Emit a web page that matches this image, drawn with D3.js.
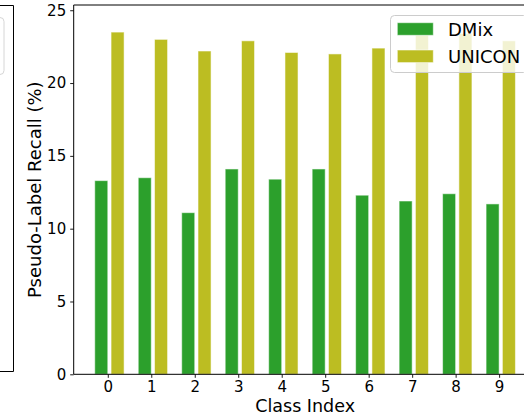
<!DOCTYPE html>
<html>
<head>
<meta charset="utf-8">
<script src="https://cdn.jsdelivr.net/npm/d3@7"></script>
<style>
  html, body { margin: 0; padding: 0; background: #fff; }
  svg { display: block; }
  text { font-family: "DejaVu Sans", sans-serif; fill: #000; }
</style>
</head>
<body>
<svg id="chart" width="524" height="415"></svg>
<script>
// Per-class pseudo-label recall (%)
const classes = [0, 1, 2, 3, 4, 5, 6, 7, 8, 9];
const dmix    = [13.3, 13.5, 11.1, 14.1, 13.4, 14.1, 12.3, 11.9, 12.4, 11.7];
const unicon  = [23.5, 23.0, 22.2, 22.9, 22.1, 22.0, 22.4, 23.3, 23.4, 22.9];
const seriesNames = ["DMix", "UNICON"];
const yTicks = [0, 5, 10, 15, 20, 25];

const colors = { DMix: "#2ca02c", UNICON: "#bcbd22" };
const barWidth = 0.3;
const offsets = { DMix: -0.15, UNICON: 0.225 };

const svg = d3.select("#chart");

// plot area
const plotLeft = 73.7, plotRight = 536.6, plotTop = 5, plotBottom = 374.3;
const x = d3.scaleLinear().domain([-0.784, 9.862]).range([plotLeft, plotRight]);
const y = d3.scaleLinear().domain([0, 25.36]).range([plotBottom, plotTop]);

// edge of the neighbouring panel on the left
const side = svg.append("g").attr("stroke", "#000").attr("stroke-width", 1).attr("fill", "none");
side.append("path").attr("d", "M0,5.5H13.5V371.5H0");
svg.append("rect")
  .attr("x", -100).attr("y", 17.5).attr("width", 104).attr("height", 57)
  .attr("rx", 4).attr("fill", "#fff").attr("stroke", "#d6d6d6").attr("stroke-width", 1);

// bars
const series = [
  { name: "DMix", values: dmix },
  { name: "UNICON", values: unicon }
];
series.forEach(s => {
  svg.append("g").selectAll("rect")
    .data(classes)
    .join("rect")
    .attr("x", c => x(c + offsets[s.name] - barWidth / 2))
    .attr("width", x(barWidth) - x(0))
    .attr("y", (c, i) => y(s.values[i]))
    .attr("height", (c, i) => y(0) - y(s.values[i]))
    .attr("fill", colors[s.name])
    .attr("stroke", "#fff")
    .attr("stroke-opacity", 0.55)
    .attr("stroke-width", 1);
});

// axes
const xAxis = d3.axisBottom(x).tickValues(classes).tickFormat(d3.format("d"))
  .tickSize(3.5).tickPadding(4);
const gx = svg.append("g").attr("transform", `translate(0,${plotBottom})`).call(xAxis);
gx.select(".domain").remove();
gx.selectAll("text").attr("font-size", 15).attr("font-family", "DejaVu Sans").attr("fill", "#000");
gx.selectAll("line").attr("stroke", "#000").attr("stroke-width", 0.9);

const yAxis = d3.axisLeft(y).tickValues(yTicks).tickFormat(d3.format("d"))
  .tickSize(3.5).tickPadding(4);
const gy = svg.append("g").attr("transform", `translate(${plotLeft},0)`).call(yAxis);
gy.select(".domain").remove();
gy.selectAll("text").attr("font-size", 15).attr("font-family", "DejaVu Sans").attr("fill", "#000");
gy.selectAll("line").attr("stroke", "#000").attr("stroke-width", 0.9);

// spines
const spines = svg.append("g").attr("stroke", "#000").attr("stroke-width", 1).attr("fill", "none");
spines.append("line").attr("x1", plotLeft).attr("x2", plotLeft).attr("y1", plotTop).attr("y2", plotBottom);
spines.append("line").attr("x1", plotLeft).attr("x2", 540).attr("y1", plotBottom).attr("y2", plotBottom);
spines.append("line").attr("x1", plotLeft).attr("x2", 540).attr("y1", plotTop).attr("y2", plotTop);

// axis titles
svg.append("text")
  .attr("x", (plotLeft + plotRight) / 2).attr("y", 411.5)
  .attr("text-anchor", "middle").attr("font-size", 17.5)
  .text("Class Index");
svg.append("text")
  .attr("transform", `translate(40.5,${(plotTop + plotBottom) / 2}) rotate(-90)`)
  .attr("text-anchor", "middle").attr("font-size", 18)
  .text("Pseudo-Label Recall (%)");

// legend
const legend = svg.append("g");
legend.append("rect")
  .attr("x", 390.5).attr("y", 15.5).attr("width", 137).attr("height", 57)
  .attr("rx", 4)
  .attr("fill", "#fff").attr("fill-opacity", 0.8)
  .attr("stroke", "#cccccc").attr("stroke-width", 1);
seriesNames.forEach((name, i) => {
  const yy = 22.7 + i * 27.3;
  legend.append("rect")
    .attr("x", 397.3).attr("y", yy).attr("width", 36).attr("height", 12.6)
    .attr("fill", colors[name])
    .attr("stroke", "#fff").attr("stroke-opacity", 0.55).attr("stroke-width", 1);
  legend.append("text")
    .attr("x", 448).attr("y", yy + 13.3)
    .attr("font-size", 18)
    .text(name);
});
</script>
</body>
</html>
